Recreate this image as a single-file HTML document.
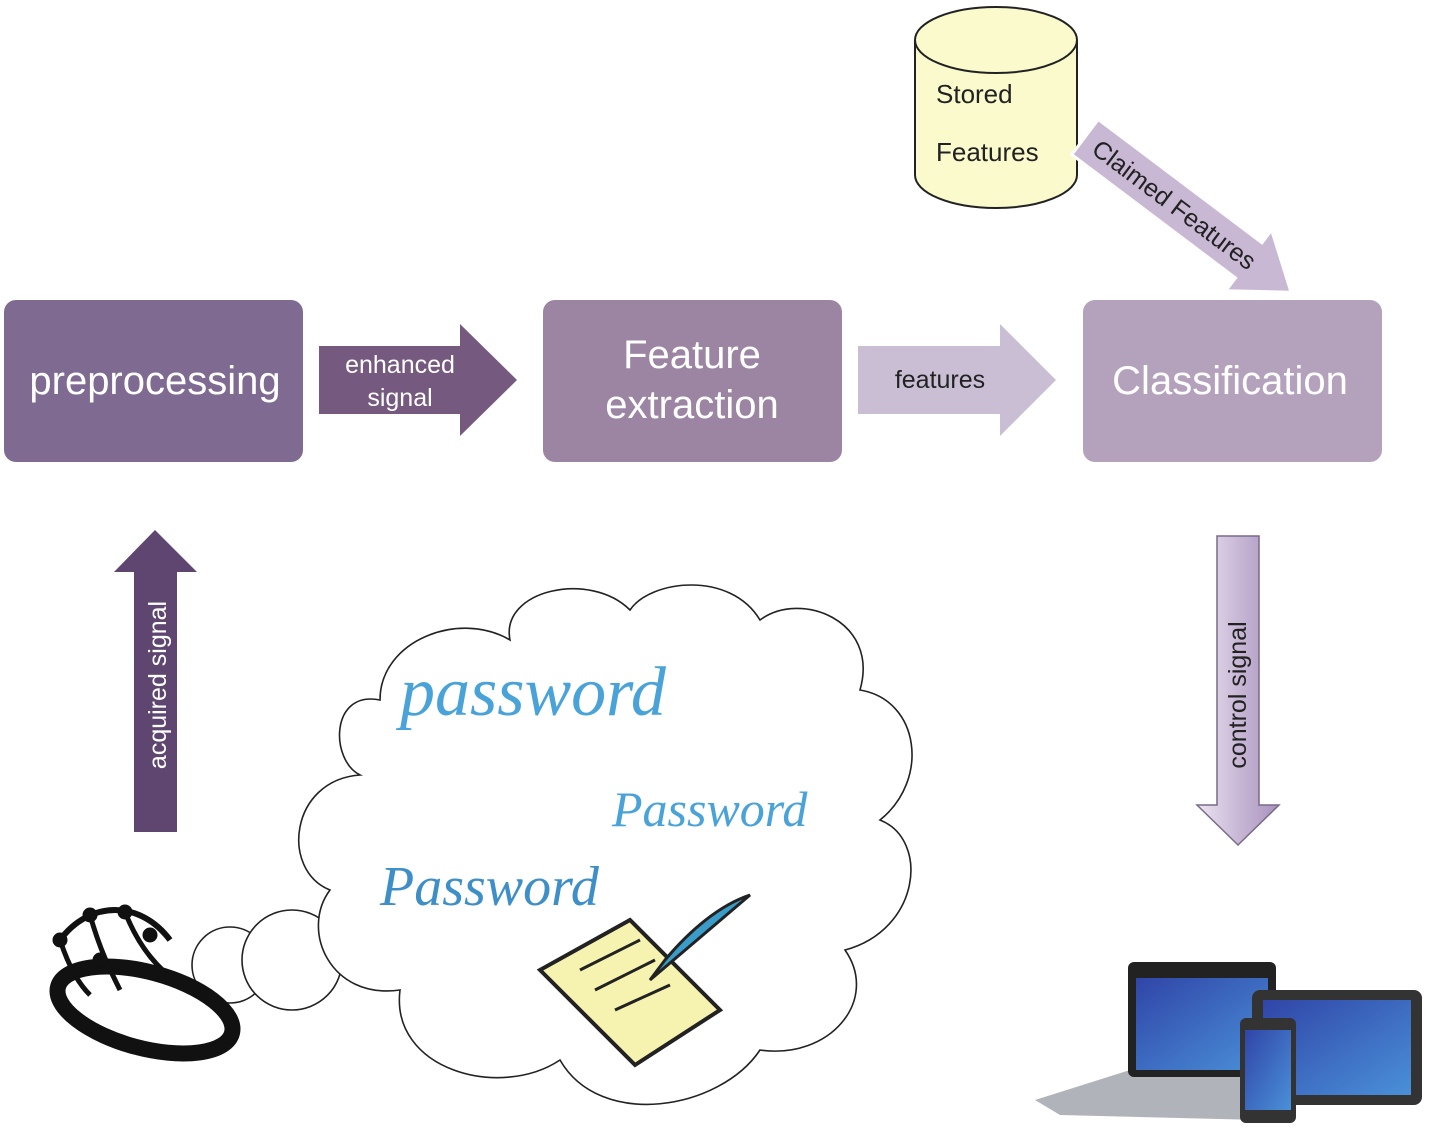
<!DOCTYPE html>
<html><head><meta charset="utf-8"><style>html,body{margin:0;padding:0;background:#fff}svg{display:block}</style></head>
<body>
<svg width="1432" height="1143" viewBox="0 0 1432 1143" xmlns="http://www.w3.org/2000/svg" font-family="Liberation Sans, DejaVu Sans, sans-serif">
<defs>
<linearGradient id="cg" x1="0" x2="1"><stop offset="0" stop-color="#ebe4f0"/><stop offset="0.5" stop-color="#c8b8d6"/><stop offset="1" stop-color="#a993bd"/></linearGradient>
<linearGradient id="scr" x1="0" y1="0" x2="1" y2="1"><stop offset="0" stop-color="#3045a8"/><stop offset="1" stop-color="#4a90d8"/></linearGradient>
</defs>
<!-- cylinder -->
<path d="M915 40 L915 175 A81 33 0 0 0 1077 175 L1077 40" fill="#fafacc" stroke="#222" stroke-width="2"/>
<ellipse cx="996" cy="40" rx="81" ry="33" fill="#fafacc" stroke="#222" stroke-width="2"/>
<text x="936" y="103" font-size="26" fill="#222">Stored</text>
<text x="936" y="161" font-size="26" fill="#222">Features</text>
<!-- claimed features arrow -->
<g transform="translate(1085,137) rotate(37)">
<polygon points="0,-22 205,-22 205,-38 258,0 205,38 205,22 0,22" fill="#c9b8d4" stroke="#fff" stroke-width="3"/>
<text x="112" y="9" font-size="25" text-anchor="middle" fill="#222">Claimed Features</text>
</g>
<!-- boxes -->
<rect x="4" y="300" width="299" height="162" rx="12" fill="#7f6a92"/>
<text x="155" y="394" font-size="40" fill="#fff" text-anchor="middle">preprocessing</text>
<polygon points="319,346 460,346 460,324 517,380 460,436 460,414 319,414" fill="#76597f"/>
<text x="400" y="373" font-size="25" fill="#fff" text-anchor="middle">enhanced</text>
<text x="400" y="406" font-size="25" fill="#fff" text-anchor="middle">signal</text>
<rect x="543" y="300" width="299" height="162" rx="12" fill="#9b85a3"/>
<text x="692" y="368" font-size="40" fill="#fff" text-anchor="middle">Feature</text>
<text x="692" y="418" font-size="40" fill="#fff" text-anchor="middle">extraction</text>
<polygon points="858,346 1000,346 1000,324 1056,380 1000,436 1000,414 858,414" fill="#c9bed3"/>
<text x="940" y="388" font-size="25" fill="#222" text-anchor="middle">features</text>
<rect x="1083" y="300" width="299" height="162" rx="12" fill="#b4a2bc"/>
<text x="1230" y="394" font-size="40" fill="#fff" text-anchor="middle">Classification</text>
<!-- acquired signal -->
<polygon points="134,832 177,832 177,572 197,572 155,530 114,572 134,572" fill="#5e4670"/>
<text transform="translate(166,685) rotate(-90)" font-size="25" fill="#fff" text-anchor="middle">acquired  signal</text>
<!-- control signal -->
<polygon points="1217,536 1259,536 1259,805 1279,805 1238,845 1197,805 1217,805" fill="url(#cg)" stroke="#7a6a8a" stroke-width="1.5"/>
<text transform="translate(1246,695) rotate(-90)" font-size="25" fill="#222" text-anchor="middle">control signal</text>
<!-- cloud -->
<g fill="#fff" stroke="#222" stroke-width="1.6">
<circle cx="230" cy="965" r="38"/>
<circle cx="292" cy="960" r="50"/>
<path d="M380 700 C330 690 330 760 360 775 C290 780 280 870 330 890 C300 930 330 1000 400 990 C390 1070 500 1100 560 1060 C600 1130 720 1110 760 1050 C830 1060 880 1000 845 950 C920 930 930 840 880 820 C930 780 920 700 860 690 C880 620 800 590 760 620 C730 570 650 580 630 610 C590 570 500 590 510 640 C460 610 380 640 380 700 Z"/>
</g>
<!-- passwords -->
<text x="400" y="715" font-family="Liberation Serif, serif" font-style="italic" font-size="70" fill="#4aa3d8">password</text>
<text x="612" y="826" font-family="Liberation Serif, serif" font-style="italic" font-size="50" fill="#4aa3d8">Password</text>
<text x="380" y="905" font-family="Liberation Serif, serif" font-style="italic" font-size="56" fill="#3e8fc8">Password</text>
<!-- scroll -->
<g transform="translate(540,900)">
<polygon points="0,70 90,20 180,110 95,165" fill="#f6f2b0" stroke="#222" stroke-width="4"/>
<path d="M110 80 L210 -5 C180 5 150 30 125 60 Z" fill="#3a9cc8" stroke="#222" stroke-width="3"/>
<line x1="40" y1="70" x2="100" y2="40" stroke="#222" stroke-width="3"/>
<line x1="55" y1="90" x2="115" y2="60" stroke="#222" stroke-width="3"/>
<line x1="75" y1="110" x2="130" y2="85" stroke="#222" stroke-width="3"/>
</g>
<!-- headset -->
<g fill="none" stroke="#111">
<ellipse cx="145" cy="1010" rx="90" ry="38" stroke-width="16" transform="rotate(15 145 1010)"/>
<path d="M60 940 C90 900 140 900 170 940" stroke-width="6"/>
<path d="M90 915 C100 950 110 970 120 990 M125 912 C140 950 160 970 180 985 M60 940 C70 970 80 985 90 995" stroke-width="5"/>
<circle cx="60" cy="940" r="7" fill="#111"/><circle cx="90" cy="915" r="7" fill="#111"/><circle cx="125" cy="912" r="7" fill="#111"/><circle cx="150" cy="935" r="7" fill="#111"/><circle cx="100" cy="960" r="7" fill="#111"/>
</g>
<!-- devices -->
<g>
<polygon points="1035,1100 1130,1070 1290,1080 1260,1120 1060,1115" fill="#b0b4ba"/>
<rect x="1128" y="962" width="148" height="115" rx="6" fill="#222"/>
<rect x="1136" y="978" width="132" height="92" fill="url(#scr)"/>
<rect x="1252" y="990" width="170" height="115" rx="8" fill="#333"/>
<rect x="1263" y="1000" width="148" height="95" fill="url(#scr)"/>
<rect x="1240" y="1018" width="56" height="105" rx="6" fill="#333"/>
<rect x="1245" y="1030" width="46" height="80" fill="url(#scr)"/>
</g>
</svg>
</body></html>
